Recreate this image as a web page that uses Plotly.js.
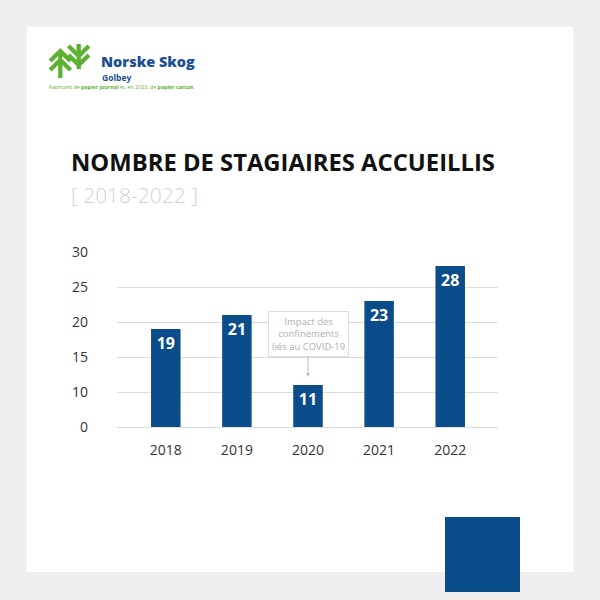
<!DOCTYPE html>
<html>
<head>
<meta charset="utf-8">
<script src="https://cdn.plot.ly/plotly-3.0.1.min.js"></script>
<style>html,body{margin:0;padding:0;background:#efefef;}#chart{width:600px;height:600px;}</style>
</head>
<body>
<div id="chart"></div>
<script>
// ---- data ----
const years = ['2018', '2019', '2020', '2021', '2022'];
const interns = [19, 21, 11, 23, 28];
const yTickValues = [5, 10, 15, 20, 25, 30];
const yTickLabels = ['0', '10', '15', '20', '25', '30'];
const chartTitle = 'NOMBRE DE STAGIAIRES ACCUEILLIS';
const chartSubtitle = '[ 2018-2022 ]';
const noteText = 'Impact des<br>confinements<br>liés au COVID-19';
const noteYear = '2020';

// ---- layout helpers (pixel -> paper) ----
const W = 600, H = 600;
const mL = 117, mR = 102, mT = 252, mB = 173;
const pw = W - mL - mR, ph = H - mT - mB;
const px = x => (x - mL) / pw;
const py = y => (H - mB - y) / ph;

const BLUE = '#0b4d8b';
const GREEN = '#5db131';

const logoSvg = "<svg xmlns='http://www.w3.org/2000/svg' width='44' height='34' viewBox='0 0 44 34'>" +
  "<g stroke='" + GREEN + "' stroke-width='4.2' fill='none'>" +
  "<path d='M13 34 V7 M3 17 L13 7 L23 17 M3 26 L13 16 L23 26'/>" +
  "<path d='M31 0 V25 M21 11 L31 21 L41 11 M21 2 L31 12 L41 2'/>" +
  "</g></svg>";

const trace = {
  type: 'bar',
  x: years,
  y: interns,
  marker: {color: BLUE},
  text: interns.map(String),
  textposition: 'inside',
  insidetextanchor: 'end',
  textangle: 0,
  textfont: {family: 'Open Sans', size: 16, color: '#ffffff', weight: 700},
  hoverinfo: 'skip',
  cliponaxis: true
};

// arrow tip sits just above the 2020 bar (pixel 377)
const noteTipY = 5 + (H - mB - 377) / (ph / 25);

const layout = {
  width: W, height: H,
  margin: {l: mL, r: mR, t: mT, b: mB, pad: 0},
  paper_bgcolor: '#efefef',
  plot_bgcolor: 'rgba(0,0,0,0)',
  showlegend: false,
  bargap: 0.585,
  font: {family: 'Open Sans', color: '#333333'},
  xaxis: {
    type: 'category',
    range: [-0.686, 4.672],
    showgrid: false,
    showline: true, linecolor: '#dcdcdc', linewidth: 1,
    ticks: '',
    ticklabelstandoff: 10,
    tickfont: {size: 14, color: '#333333'},
    fixedrange: true
  },
  yaxis: {
    range: [5, 30],
    tickvals: yTickValues,
    ticktext: yTickLabels,
    showgrid: true, gridcolor: '#dcdcdc', gridwidth: 1,
    zeroline: false,
    showline: false,
    ticks: '',
    ticklabelstandoff: 28,
    tickfont: {size: 14, color: '#333333'},
    fixedrange: true
  },
  shapes: [
    {type: 'rect', xref: 'paper', yref: 'paper', x0: px(27), x1: px(573), y0: py(27), y1: py(572),
     fillcolor: '#ffffff', line: {width: 0}, layer: 'below'},
    {type: 'rect', xref: 'paper', yref: 'paper', x0: px(445), x1: px(520), y0: py(517), y1: py(592),
     fillcolor: BLUE, line: {width: 0}, layer: 'above'}
  ],
  images: [
    {source: 'data:image/svg+xml;charset=utf-8,' + encodeURIComponent(logoSvg),
     xref: 'paper', yref: 'paper', x: px(47), y: py(44), sizex: 45 / pw, sizey: 34 / ph,
     xanchor: 'left', yanchor: 'top', sizing: 'stretch', layer: 'above'}
  ],
  annotations: [
    {text: 'Norske Skog', xref: 'paper', yref: 'paper', x: px(99), y: py(62), xanchor: 'left', yanchor: 'middle',
     showarrow: false, font: {family: 'Open Sans', size: 14.5, color: '#1b4f92', weight: 800}},
    {text: 'Golbey', xref: 'paper', yref: 'paper', x: px(100), y: py(77), xanchor: 'left', yanchor: 'middle',
     showarrow: false, font: {family: 'Open Sans', size: 8.5, color: '#1b4f92', weight: 700}},
    {text: 'Fabricant de <b>papier journal</b> et, en 2023, de <b>papier carton</b>', xref: 'paper', yref: 'paper',
     x: px(47), y: py(87), xanchor: 'left', yanchor: 'middle',
     showarrow: false, font: {family: 'Open Sans', size: 5.3, color: GREEN}},
    {text: chartTitle, xref: 'paper', yref: 'paper', x: px(69), y: py(162), xanchor: 'left', yanchor: 'middle',
     showarrow: false, font: {family: 'Open Sans', size: 23.8, color: '#111111', weight: 700}},
    {text: chartSubtitle, xref: 'paper', yref: 'paper', x: px(69), y: py(195), xanchor: 'left', yanchor: 'middle',
     showarrow: false, font: {family: 'Open Sans', size: 21, color: '#d2d2d2', weight: 300}},
    {text: noteText, x: years.indexOf(noteYear), y: noteTipY, xref: 'x', yref: 'y',
     showarrow: true, arrowhead: 2, arrowsize: 0.8, arrowwidth: 1, arrowcolor: '#bdbdbd',
     ax: 0, ay: -43, align: 'center',
     bgcolor: '#ffffff', bordercolor: '#dddddd', borderwidth: 1, borderpad: 3,
     font: {family: 'Open Sans', size: 9.5, color: '#b0b0b0'}}
  ]
};

Plotly.newPlot('chart', [trace], layout, {staticPlot: true, displayModeBar: false});
</script>
</body>
</html>
